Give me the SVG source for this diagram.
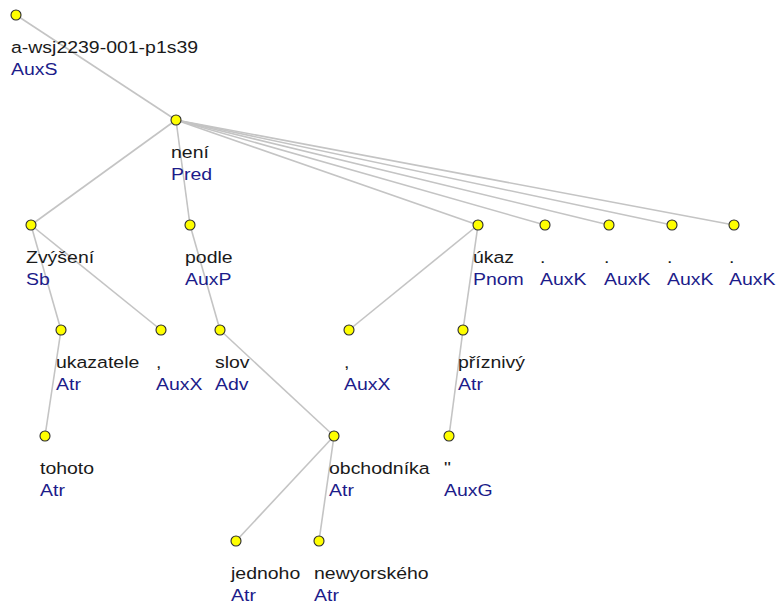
<svg xmlns="http://www.w3.org/2000/svg" width="779" height="606" viewBox="0 0 779 606">
<style>
.bg{fill:#ffffff}
.edge{stroke:#c4c4c4;stroke-width:1.6;fill:none}
.node circle{fill:#ffff00;stroke:#2a2a2a;stroke-width:1.1}
.node text{font-family:"Liberation Sans",Arial,sans-serif;font-size:16.5px}
.w{fill:#1a1a1a}
.l{fill:#1c1c8a}
</style>
<rect class="bg" x="0" y="0" width="779" height="606"/>
<g id="edges">
<line class="edge" x1="16" y1="15" x2="176" y2="120"/>
<line class="edge" x1="176" y1="120" x2="31" y2="225"/>
<line class="edge" x1="176" y1="120" x2="190" y2="225"/>
<line class="edge" x1="176" y1="120" x2="478" y2="225"/>
<line class="edge" x1="176" y1="120" x2="545" y2="225"/>
<line class="edge" x1="176" y1="120" x2="609" y2="225"/>
<line class="edge" x1="176" y1="120" x2="672" y2="225"/>
<line class="edge" x1="176" y1="120" x2="734" y2="225"/>
<line class="edge" x1="31" y1="225" x2="61" y2="330"/>
<line class="edge" x1="31" y1="225" x2="161" y2="330"/>
<line class="edge" x1="61" y1="330" x2="45" y2="436"/>
<line class="edge" x1="190" y1="225" x2="220" y2="330"/>
<line class="edge" x1="220" y1="330" x2="334" y2="436"/>
<line class="edge" x1="334" y1="436" x2="236" y2="541"/>
<line class="edge" x1="334" y1="436" x2="319" y2="541"/>
<line class="edge" x1="478" y1="225" x2="349" y2="330"/>
<line class="edge" x1="478" y1="225" x2="463" y2="330"/>
<line class="edge" x1="463" y1="330" x2="449" y2="436"/>
</g>
<g id="n0" class="node"><circle cx="16" cy="15" r="5"/><text transform="translate(11,52.5) scale(1.18,1)"><tspan class="w" x="0" y="0">a-wsj2239-001-p1s39</tspan><tspan class="l" x="0" y="23">AuxS</tspan></text></g>
<g id="n1" class="node"><circle cx="176" cy="120" r="5"/><text transform="translate(171,157.5) scale(1.18,1)"><tspan class="w" x="0" y="0">není</tspan><tspan class="l" x="0" y="23">Pred</tspan></text></g>
<g id="n2" class="node"><circle cx="31" cy="225" r="5"/><text transform="translate(26,262.5) scale(1.18,1)"><tspan class="w" x="0" y="0">Zvýšení</tspan><tspan class="l" x="0" y="23">Sb</tspan></text></g>
<g id="n3" class="node"><circle cx="190" cy="225" r="5"/><text transform="translate(185,262.5) scale(1.18,1)"><tspan class="w" x="0" y="0">podle</tspan><tspan class="l" x="0" y="23">AuxP</tspan></text></g>
<g id="n4" class="node"><circle cx="478" cy="225" r="5"/><text transform="translate(473,262.5) scale(1.18,1)"><tspan class="w" x="0" y="0">úkaz</tspan><tspan class="l" x="0" y="23">Pnom</tspan></text></g>
<g id="n5" class="node"><circle cx="545" cy="225" r="5"/><text transform="translate(540,262.5) scale(1.18,1)"><tspan class="w" x="0" y="0">.</tspan><tspan class="l" x="0" y="23">AuxK</tspan></text></g>
<g id="n6" class="node"><circle cx="609" cy="225" r="5"/><text transform="translate(604,262.5) scale(1.18,1)"><tspan class="w" x="0" y="0">.</tspan><tspan class="l" x="0" y="23">AuxK</tspan></text></g>
<g id="n7" class="node"><circle cx="672" cy="225" r="5"/><text transform="translate(667,262.5) scale(1.18,1)"><tspan class="w" x="0" y="0">.</tspan><tspan class="l" x="0" y="23">AuxK</tspan></text></g>
<g id="n8" class="node"><circle cx="734" cy="225" r="5"/><text transform="translate(729,262.5) scale(1.18,1)"><tspan class="w" x="0" y="0">.</tspan><tspan class="l" x="0" y="23">AuxK</tspan></text></g>
<g id="n9" class="node"><circle cx="61" cy="330" r="5"/><text transform="translate(56,367.5) scale(1.18,1)"><tspan class="w" x="0" y="0">ukazatele</tspan><tspan class="l" x="0" y="23">Atr</tspan></text></g>
<g id="n10" class="node"><circle cx="161" cy="330" r="5"/><text transform="translate(156,367.5) scale(1.18,1)"><tspan class="w" x="0" y="0">,</tspan><tspan class="l" x="0" y="23">AuxX</tspan></text></g>
<g id="n11" class="node"><circle cx="220" cy="330" r="5"/><text transform="translate(215,367.5) scale(1.18,1)"><tspan class="w" x="0" y="0">slov</tspan><tspan class="l" x="0" y="23">Adv</tspan></text></g>
<g id="n12" class="node"><circle cx="349" cy="330" r="5"/><text transform="translate(344,367.5) scale(1.18,1)"><tspan class="w" x="0" y="0">,</tspan><tspan class="l" x="0" y="23">AuxX</tspan></text></g>
<g id="n13" class="node"><circle cx="463" cy="330" r="5"/><text transform="translate(458,367.5) scale(1.18,1)"><tspan class="w" x="0" y="0">příznivý</tspan><tspan class="l" x="0" y="23">Atr</tspan></text></g>
<g id="n14" class="node"><circle cx="45" cy="436" r="5"/><text transform="translate(40,473.5) scale(1.18,1)"><tspan class="w" x="0" y="0">tohoto</tspan><tspan class="l" x="0" y="23">Atr</tspan></text></g>
<g id="n15" class="node"><circle cx="334" cy="436" r="5"/><text transform="translate(329,473.5) scale(1.18,1)"><tspan class="w" x="0" y="0">obchodníka</tspan><tspan class="l" x="0" y="23">Atr</tspan></text></g>
<g id="n16" class="node"><circle cx="449" cy="436" r="5"/><text transform="translate(444,473.5) scale(1.18,1)"><tspan class="w" x="0" y="0">"</tspan><tspan class="l" x="0" y="23">AuxG</tspan></text></g>
<g id="n17" class="node"><circle cx="236" cy="541" r="5"/><text transform="translate(231,578.5) scale(1.18,1)"><tspan class="w" x="0" y="0">jednoho</tspan><tspan class="l" x="0" y="23">Atr</tspan></text></g>
<g id="n18" class="node"><circle cx="319" cy="541" r="5"/><text transform="translate(314,578.5) scale(1.18,1)"><tspan class="w" x="0" y="0">newyorského</tspan><tspan class="l" x="0" y="23">Atr</tspan></text></g>
</svg>
